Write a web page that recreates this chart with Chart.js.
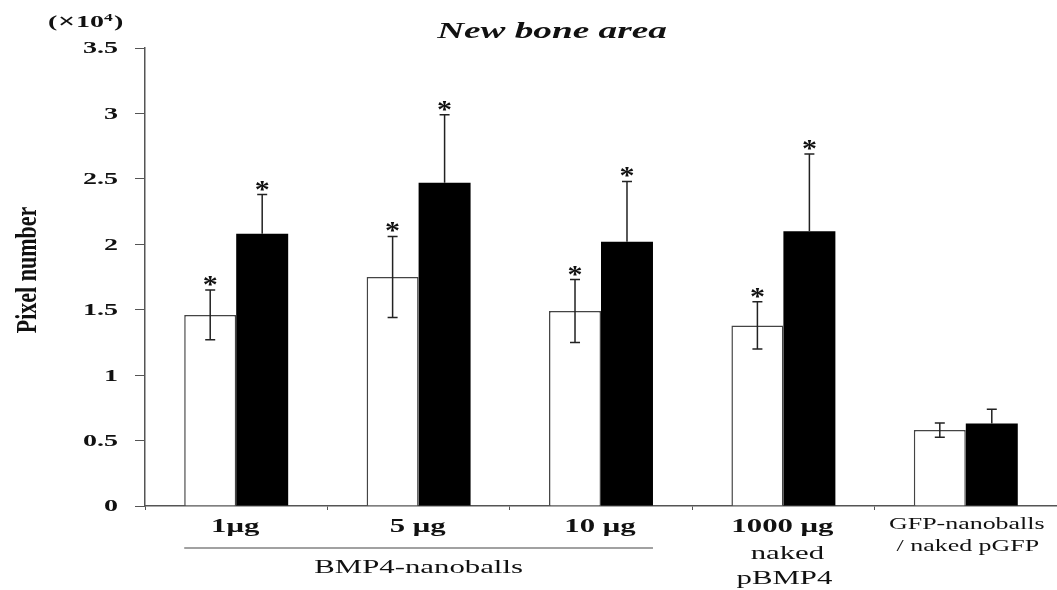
<!DOCTYPE html>
<html>
<head>
<meta charset="utf-8">
<script src="https://cdn.jsdelivr.net/npm/chart.js@4/dist/chart.umd.min.js"></script>
<style>
	html, body { margin: 0; padding: 0; background: #fff; }
	#wrap { width: 1057px; height: 590px; position: relative; }
</style>
</head>
<body>
<div id="wrap"><canvas id="chart" width="1057" height="590"></canvas></div>
<script>
// New bone area - pixel number (x10^4)

const categories   = ['1μg', '5 μg', '10 μg', '1000 μg', 'GFP-nanoballs']
const subLabels    = [null, null, null, ['naked', 'pBMP4'], null]
const gfpLabel     = ['GFP-nanoballs', '/ naked pGFP']
const groupLabel   = 'BMP4-nanoballs'
const groupSpan    = [0, 2]

const whiteValues  = [1.46, 1.75, 1.49, 1.38, 0.58]
const whiteErrors  = [0.19, 0.31, 0.24, 0.18, 0.055]
const blackValues  = [2.08, 2.47, 2.02, 2.10, 0.63]
const blackErrors  = [0.30, 0.52, 0.46, 0.59, 0.11]
const whiteStars   = [true, true, true, true, false]
const blackStars   = [true, true, true, true, false]

const yTicks       = [0, 0.5, 1, 1.5, 2, 2.5, 3, 3.5]
const yTickLabels  = ['0', '0.5', '1', '1.5', '2', '2.5', '3', '3.5']

const SERIF   = '\'Liberation Serif\', \'Times New Roman\', serif'
const STRETCH = 1.62
const INK     = '#111'
const AXIS    = '#555'

const putText = (ctx, text, x, y, { font = `bold 18px ${SERIF}`, align = 'center', base = 'middle', sx = STRETCH } = {}) => {
	ctx.save()
	ctx.translate(x, y)
	ctx.scale(sx, 1)
	ctx.font         = font
	ctx.textAlign    = align
	ctx.textBaseline = base
	ctx.fillStyle    = INK
	ctx.fillText(text, 0, 0)
	ctx.restore()
}

const errorBars = {
	id : 'errorBars',
	afterDatasetsDraw : (chart) => {
		const ctx  = chart.ctx
		const yS   = chart.scales.y
		const sets = [
			{ meta : chart.getDatasetMeta(0), vals : whiteValues, errs : whiteErrors, stars : whiteStars, both : true },
			{ meta : chart.getDatasetMeta(1), vals : blackValues, errs : blackErrors, stars : blackStars, both : false },
		]
		ctx.save()
		ctx.strokeStyle = '#222'
		ctx.lineWidth   = 1.5
		for ( const thisSet of sets ) {
			thisSet.meta.data.forEach((bar, i) => {
				const x    = bar.x
				const yTop = yS.getPixelForValue(thisSet.vals[i] + thisSet.errs[i])
				const yBot = thisSet.both ? yS.getPixelForValue(thisSet.vals[i] - thisSet.errs[i]) : bar.y
				ctx.beginPath()
				ctx.moveTo(x, yTop)
				ctx.lineTo(x, yBot)
				ctx.moveTo(x - 5, yTop)
				ctx.lineTo(x + 5, yTop)
				if ( thisSet.both ) {
					ctx.moveTo(x - 5, yBot)
					ctx.lineTo(x + 5, yBot)
				}
				ctx.stroke()
				if ( thisSet.stars[i] ) {
					putText(ctx, '*', x, yTop + 3, { font : `bold 25px ${SERIF}`, base : 'alphabetic', sx : 1.2 })
				}
			})
		}
		ctx.restore()
	},
	afterDraw : (chart) => {
		const ctx = chart.ctx
		const xS  = chart.scales.x
		const yS  = chart.scales.y

		// title + units
		putText(ctx, 'New bone area', 552, 32, { font : `italic bold 23px ${SERIF}` })
		putText(ctx, '(', 48, 23, { font : `bold 16px ${SERIF}`, align : 'left', sx : 1.75 })
		putText(ctx, '×', 58, 23, { font : `bold 20px ${SERIF}`, align : 'left', sx : 1.5 })
		putText(ctx, '10', 76, 23, { font : `bold 16px ${SERIF}`, align : 'left', sx : 1.75 })
		putText(ctx, '4', 104, 18, { font : `bold 10px ${SERIF}`, align : 'left', sx : 1.75 })
		putText(ctx, ')', 114, 23, { font : `bold 16px ${SERIF}`, align : 'left', sx : 1.75 })

		// y tick labels
		yTicks.forEach((v, i) => {
			putText(ctx, yTickLabels[i], 118, yS.getPixelForValue(v) + 1, { font : `bold 17px ${SERIF}`, align : 'right', sx : 1.65 })
		})

		// y axis title
		ctx.save()
		ctx.translate(36, 270)
		ctx.rotate(-Math.PI / 2)
		ctx.scale(1, 1.3)
		ctx.font         = `bold 22px ${SERIF}`
		ctx.textAlign    = 'center'
		ctx.textBaseline = 'alphabetic'
		ctx.fillStyle    = INK
		ctx.fillText('Pixel number', 0, 0)
		ctx.restore()

		// category labels
		categories.forEach((label, i) => {
			const cx = xS.getPixelForValue(i)
			if ( i === categories.length - 1 ) {
				putText(ctx, gfpLabel[0], cx + 1, 525, { font : `16px ${SERIF}` })
				putText(ctx, gfpLabel[1], cx + 2, 547, { font : `16px ${SERIF}` })
				return
			}
			putText(ctx, label, cx - 1, 527, { font : `bold 19px ${SERIF}` })
			if ( subLabels[i] !== null ) {
				putText(ctx, subLabels[i][0], cx + 4, 554, { font : `19px ${SERIF}` })
				putText(ctx, subLabels[i][1], cx + 1, 579, { font : `19px ${SERIF}` })
			}
		})

		// group bracket line
		const m0    = chart.getDatasetMeta(0).data[groupSpan[0]]
		const m1    = chart.getDatasetMeta(1).data[groupSpan[1]]
		const lineL = m0.x - m0.width / 2
		const lineR = m1.x + m1.width / 2
		ctx.save()
		ctx.strokeStyle = '#444'
		ctx.lineWidth   = 1.2
		ctx.beginPath()
		ctx.moveTo(lineL, 548)
		ctx.lineTo(lineR, 548)
		ctx.stroke()
		ctx.restore()
		putText(ctx, groupLabel, (lineL + lineR) / 2, 568, { font : `19px ${SERIF}` })
	},
}

new Chart(document.getElementById('chart'), {
	type : 'bar',
	data : {
		labels   : categories,
		datasets : [
			{
				data            : whiteValues,
				backgroundColor : '#fff',
				borderColor     : '#444',
				borderWidth     : 1.5,
			},
			{
				data            : blackValues,
				backgroundColor : '#000',
				borderWidth     : 0,
			},
		],
	},
	options : {
		responsive          : false,
		animation           : false,
		devicePixelRatio    : 1,
		categoryPercentage  : 0.57,
		barPercentage       : 1.0,
		layout              : { padding : { top : 48, left : 0, right : 0, bottom : 0 } },
		plugins             : {
			legend  : { display : false },
			tooltip : { enabled : false },
			title   : { display : false },
		},
		scales : {
			x : {
				afterFit : (s) => { s.height = 84 },
				border   : { color : AXIS, width : 1.5 },
				grid     : { drawOnChartArea : false, tickLength : 4, color : AXIS, offset : true },
				ticks    : { display : false },
			},
			y : {
				min      : 0,
				max      : 3.5,
				afterFit : (s) => { s.width = 145 },
				border   : { color : AXIS, width : 1.5 },
				grid     : { drawOnChartArea : false, tickLength : 10, color : AXIS },
				ticks    : { display : false, stepSize : 0.5 },
			},
		},
	},
	plugins : [errorBars],
})
</script>
</body>
</html>
